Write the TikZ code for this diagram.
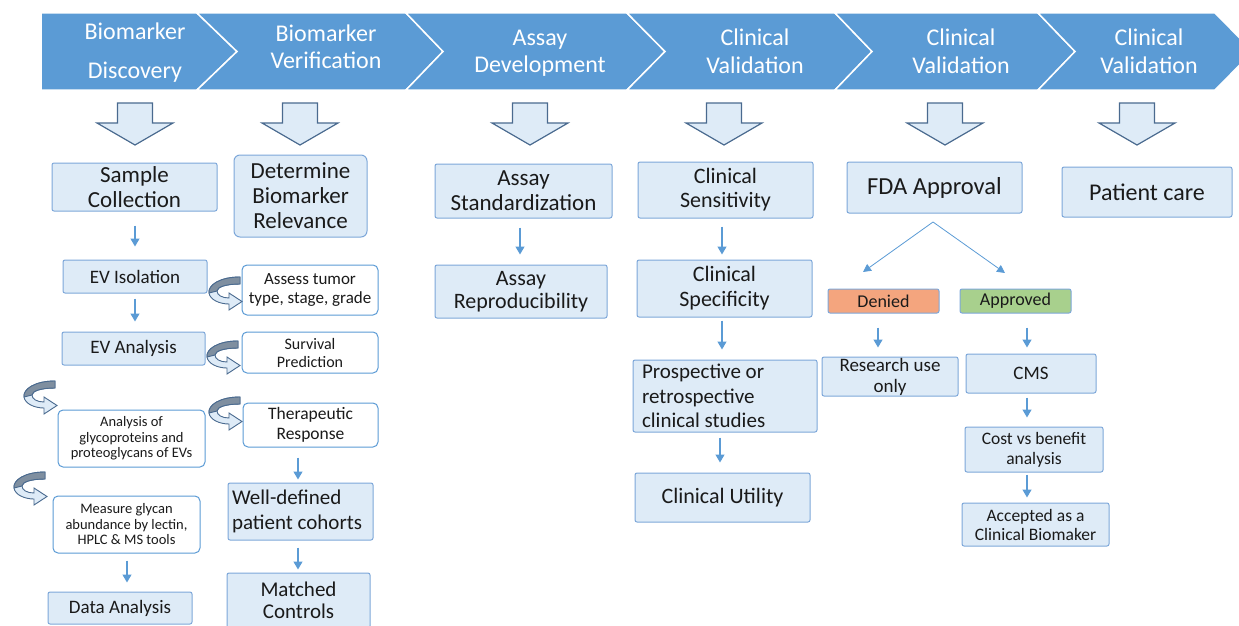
\documentclass[tikz,border=0pt]{standalone}
\usepackage{fontspec}
\setmainfont{Carlito}
\usetikzlibrary{arrows.meta}
\definecolor{chev}{HTML}{5B9BD5}
\definecolor{bfill}{HTML}{DEEBF7}
\definecolor{bdraw}{HTML}{7DA7D9}
\definecolor{hdraw}{HTML}{4A6A8F}
\definecolor{cdark}{HTML}{7F8FA0}
\definecolor{denc}{HTML}{F4A57E}
\definecolor{appc}{HTML}{A8D08D}
\definecolor{txt}{HTML}{1A1A1A}
\newcommand\fsz[2]{\fontsize{#1}{#2}\selectfont}
\tikzset{
  chevshape/.style={fill=chev,draw=white,line width=1.5pt,line join=miter},
  chevtext/.style={text=white,align=center,inner sep=0pt},
  lbox/.style={fill=bfill,draw=bdraw,line width=1pt,rounded corners=2pt,text=txt,align=center,inner sep=0pt},
  wbox/.style={fill=white,draw=chev,line width=1pt,rounded corners=5pt,text=txt,align=center,inner sep=0pt},
  tarrow/.style={draw=chev,line width=1.3pt,-{Triangle[width=9pt,length=8pt]}},
  farrow/.style={draw=chev,line width=0.8pt,-{Triangle[width=8pt,length=8pt]}},
  hollow/.style={fill=bfill,draw=hdraw,line width=1.2pt,line join=miter},
  curly/.pic={
    \path[fill=bfill,draw=hdraw,line width=0.9pt]
      (0,0) .. controls (-20,0) and (-32,8) .. (-31,16)
      .. controls (-30,23) and (-20,27) .. (-11,27)
      -- (-11,33) -- (2,24.5) -- (-11,16) -- (-11,21)
      .. controls (-18,21) and (-23,18) .. (-23,14)
      .. controls (-23,10) and (-14,7) .. (0,7) -- cycle;
    \path[fill=cdark,draw=hdraw,line width=0.9pt]
      (0,0) .. controls (-20,0) and (-32,8) .. (-31,16)
      -- (-23,14) .. controls (-23,10) and (-14,7) .. (0,7) -- cycle;
  }
}
\newcommand\hollowarrow[1]{%
  \path[hollow] (#1-17.5,103) -- (#1+17.5,103) -- (#1+17.5,123) -- (#1+38,123)
    -- (#1,145) -- (#1-38,123) -- (#1-17.5,123) -- cycle;}
\begin{document}
\begin{tikzpicture}[x=1pt,y=-1pt]
\useasboundingbox (0,0) rectangle (1239,626);
\clip (0,0) rectangle (1239,626);
% chevrons
\path[chevshape] (41,13) -- (197,13) -- (237,51.5) -- (197,90) -- (41,90) -- cycle;
\path[chevshape] (197,13) -- (406,13) -- (443,51.5) -- (406,90) -- (197,90) -- (237,51.5) -- cycle;
\path[chevshape] (406,13) -- (627,13) -- (665,51.5) -- (627,90) -- (406,90) -- (443,51.5) -- cycle;
\path[chevshape] (627,13) -- (835,13) -- (872,51.5) -- (835,90) -- (627,90) -- (665,51.5) -- cycle;
\path[chevshape] (835,13) -- (1038,13) -- (1075,51.5) -- (1038,90) -- (835,90) -- (872,51.5) -- cycle;
\path[chevshape] (1038,13) -- (1215,13) -- (1253,51.5) -- (1215,90) -- (1038,90) -- (1075,51.5) -- cycle;
\node[chevtext,font=\fsz{24}{39}] (h1) at (135,52.5) {Biomarker\\Discovery};
\node[chevtext,font=\fsz{24}{27}] (h2) at (326,46.5) {Biomarker\\Verification};
\node[chevtext,font=\fsz{24}{27}] (h3) at (540,53.5) {Assay\\Development};
\node[chevtext,font=\fsz{24}{28}] (h4) at (755,51) {Clinical\\Validation};
\node[chevtext,font=\fsz{24}{28}] (h5) at (961,51) {Clinical\\Validation};
\node[chevtext,font=\fsz{24}{28}] (h6) at (1149,51) {Clinical\\Validation};
% hollow arrows
\hollowarrow{135}
\hollowarrow{300}
\hollowarrow{530}
\hollowarrow{724}
\hollowarrow{945}
\hollowarrow{1137}
% column 1
\node[lbox,minimum width=165,minimum height=48,font=\fsz{23}{25}] (sc) at (134.5,187) {Sample\\Collection};
\node[lbox,minimum width=144,minimum height=33,font=\fsz{19}{22}] (evi) at (135,276.5) {EV Isolation};
\node[lbox,minimum width=143,minimum height=33,font=\fsz{19}{22}] (eva) at (133.5,348.5) {EV Analysis};
\node[wbox,minimum width=147,minimum height=57,font=\fsz{14.5}{15.5}] (aog) at (131.5,438.5) {Analysis of\\glycoproteins and\\proteoglycans of EVs};
\node[wbox,minimum width=147,minimum height=57,font=\fsz{14.5}{15.5}] (mga) at (126.5,524.5) {Measure glycan\\abundance by lectin,\\HPLC \& MS tools};
\node[lbox,minimum width=144,minimum height=32,font=\fsz{19}{22}] (da) at (120,608) {Data Analysis};
% column 2
\node[lbox,rounded corners=6pt,minimum width=133,minimum height=82,font=\fsz{23}{25}] (dbr) at (300.5,196) {Determine\\Biomarker\\Relevance};
\node[wbox,minimum width=136,minimum height=50,font=\fsz{17}{19}] (ass) at (310,290) {Assess tumor\\type, stage, grade};
\node[wbox,minimum width=136,minimum height=41,font=\fsz{16}{18}] (sur) at (310,352.5) {Survival\\Prediction};
\node[wbox,minimum width=135,minimum height=44,font=\fsz{17.5}{20}] (ther) at (310.5,425) {Therapeutic\\Response};
\node[lbox,minimum width=145,minimum height=57,font=\fsz{21}{25},align=flush left,text width=137] (wdp) at (300.5,511.5) {Well-defined\\patient cohorts};
\node[lbox,minimum width=143,minimum height=55,font=\fsz{21}{22}] (mc) at (298.5,600.5) {Matched\\Controls};
% column 3
\node[lbox,minimum width=177,minimum height=54,font=\fsz{23}{25}] (as) at (523.5,191) {Assay\\Standardization};
\node[lbox,minimum width=172,minimum height=53,font=\fsz{22}{23}] (ar) at (521,291.5) {Assay\\Reproducibility};
% column 4
\node[lbox,minimum width=175,minimum height=56,font=\fsz{22}{24}] (cs) at (725.5,190) {Clinical\\Sensitivity};
\node[lbox,minimum width=175,minimum height=57,font=\fsz{22}{25}] (csp) at (724.5,288.5) {Clinical\\Specificity};
\node[lbox,minimum width=184,minimum height=72,font=\fsz{21}{24.5},align=flush left,text width=166] (pr) at (725,396) {Prospective or\\retrospective\\clinical studies};
\node[lbox,minimum width=175,minimum height=49,font=\fsz{22}{24}] (cu) at (722.5,497.5) {Clinical Utility};
% column 5
\node[lbox,minimum width=175,minimum height=51,font=\fsz{24.5}{26}] (fda) at (934.5,187.5) {FDA Approval};
\node[lbox,fill=denc,minimum width=111,minimum height=24,font=\fsz{18}{20}] (den) at (883.5,301) {Denied};
\node[lbox,fill=appc,minimum width=111,minimum height=24,font=\fsz{18}{20}] (app) at (1015.5,301) {Approved};
\node[lbox,minimum width=136,minimum height=39,font=\fsz{19}{21}] (ruo) at (890,376.5) {Research use\\only};
\node[lbox,minimum width=130,minimum height=39,font=\fsz{19}{21}] (cms) at (1031,373.5) {CMS};
\node[lbox,minimum width=138,minimum height=45,font=\fsz{17.5}{20}] (cba) at (1034,449.5) {Cost vs benefit\\analysis};
\node[lbox,minimum width=147,minimum height=43,font=\fsz{17.5}{19}] (acc) at (1035.5,524.5) {Accepted as a\\Clinical Biomaker};
% column 6
\node[lbox,minimum width=170,minimum height=50,font=\fsz{24}{26}] (pc) at (1147,192) {Patient care};
% thin arrows
\draw[tarrow,shorten <=14pt,shorten >=13pt] (sc.south -| evi.north) -- (evi.north);
\draw[tarrow,shorten <=5pt,shorten >=10pt] (evi.south) -- (evi.south |- eva.north);
\draw[tarrow,shorten <=7pt,shorten >=9pt] ([xshift=0.5pt]mga.south) -- ([xshift=0.5pt]mga.south |- da.north);
\draw[tarrow,shorten <=10pt,shorten >=3pt] ([xshift=-2.5pt]wdp.north |- ther.south) -- ([xshift=-2.5pt]wdp.north);
\draw[tarrow,shorten <=7pt,shorten >=3pt] ([xshift=-2.5pt]wdp.south) -- ([xshift=-2.5pt]wdp.south |- mc.north);
\draw[tarrow,shorten <=9pt,shorten >=10pt] ([xshift=-3.5pt]as.south) -- ([xshift=-3.5pt]as.south |- ar.north);
\draw[tarrow,shorten <=8pt,shorten >=5pt] ([xshift=-3.5pt]cs.south) -- ([xshift=-3.5pt]cs.south |- csp.north);
\draw[tarrow,shorten <=3pt,shorten >=10pt] ([xshift=-2.5pt]csp.south) -- ([xshift=-2.5pt]csp.south |- pr.north);
\draw[tarrow,shorten <=5pt,shorten >=10pt] ([xshift=-5pt]pr.south) -- ([xshift=-5pt]pr.south |- cu.north);
\draw[tarrow,shorten <=14pt,shorten >=9pt] ([xshift=-5.5pt]den.south) -- ([xshift=-5.5pt]den.south |- ruo.north);
\draw[tarrow,shorten <=14pt,shorten >=6pt] ([xshift=11.5pt]app.south) -- ([xshift=11.5pt]app.south |- cms.north);
\draw[tarrow,shorten <=4pt,shorten >=9pt] ([xshift=-4pt]cms.south) -- ([xshift=-4pt]cms.south |- cba.north);
\draw[tarrow,shorten <=2pt,shorten >=5pt] ([xshift=-7pt]cba.south) -- ([xshift=-7pt]cba.south |- acc.north);
% FDA split
\coordinate (apex) at (933,222);
\coordinate (dtip) at (863,272);
\coordinate (atip) at (1005,273);
\draw[farrow] (apex) -- (dtip);
\draw[farrow] (apex) -- (atip);
% curly arrows
\pic at (240,277) {curly};
\pic at (238,341) {curly};
\pic at (55,381) {curly};
\pic at (240,397) {curly};
\pic at (45,472) {curly};
\end{tikzpicture}
\end{document}
